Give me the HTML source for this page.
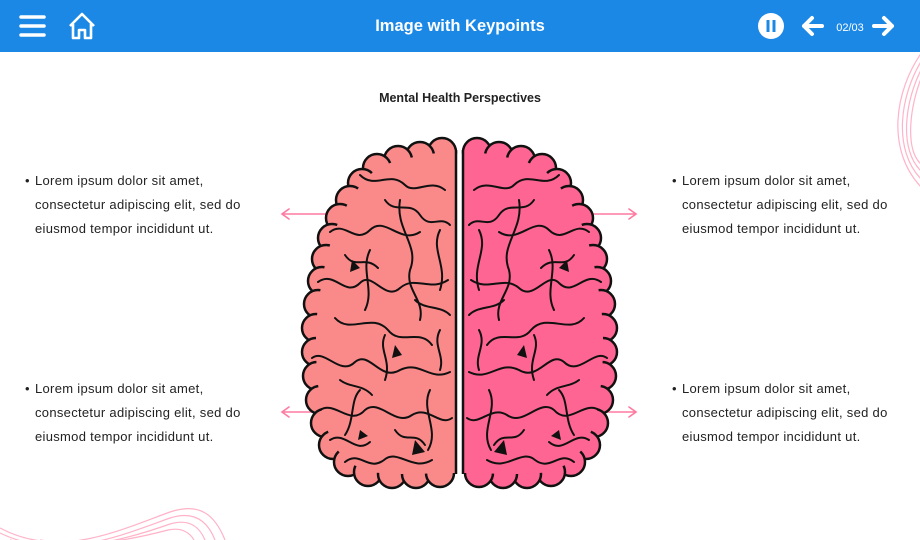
<!DOCTYPE html>
<html><head><meta charset="utf-8"><style>
*{margin:0;padding:0;box-sizing:border-box}
body{width:920px;height:540px;overflow:hidden;background:#fff;font-family:"Liberation Sans",Arial,sans-serif;position:relative}
.hdr{position:absolute;left:0;top:0;width:920px;height:52px;background:#1b88e6}
.title{position:absolute;top:17px;left:0;width:920px;text-align:center;color:#fff;font-weight:bold;font-size:16.5px;letter-spacing:0}
.sub{position:absolute;top:91px;left:0;width:920px;text-align:center;font-weight:bold;font-size:12.5px;color:#222}
.pt{position:absolute;font-size:13px;line-height:24px;color:#222;width:260px;white-space:nowrap;letter-spacing:0.3px}
.pt .b{position:absolute;left:-10px;top:0}
</style></head><body>
<div class="hdr"></div>
<svg style="position:absolute;left:0;top:0" width="920" height="540">
<g stroke="#fff" stroke-width="3.5" stroke-linecap="round" fill="none">
<line x1="21" y1="17" x2="44" y2="17"/><line x1="21" y1="26" x2="44" y2="26"/><line x1="21" y1="35" x2="44" y2="35"/>
</g>
<path d="M70,26 L82,14 L94,26 M73,24 L73,38 L79,38 L79,30 L85,30 L85,38 L91,38 L91,24" stroke="#fff" stroke-width="2.6" fill="none" stroke-linejoin="round"/>
<circle cx="771" cy="26" r="13" fill="#fff"/>
<rect x="766.5" y="20" width="3" height="12" fill="#1b88e6"/><rect x="772.5" y="20" width="3" height="12" fill="#1b88e6"/>
<path d="M822,26 L804,26 M812,18 L804,26 L812,34" stroke="#fff" stroke-width="4" fill="none" stroke-linecap="round" stroke-linejoin="round"/>
<text x="850" y="31" fill="#fff" font-size="11" font-family="Liberation Sans" text-anchor="middle">02/03</text>
<path d="M874,26 L892,26 M884,18 L892,26 L884,34" stroke="#fff" stroke-width="4" fill="none" stroke-linecap="round" stroke-linejoin="round"/>
<g stroke="#ffb3c8" stroke-width="1.2" fill="none">
<path d="M922,52 C895,90 885,150 922,188"/><path d="M922,60 C900,95 892,150 922,180"/><path d="M922,68 C905,100 898,150 922,172"/><path d="M922,76 C910,105 904,150 922,165"/>
<path d="M0,528 C60,560 120,530 170,512 C200,502 215,515 225,540"/><path d="M0,533 C60,562 120,536 170,518 C195,510 208,522 215,540"/><path d="M10,540 C70,555 125,540 170,524 C190,518 200,528 205,540"/><path d="M40,540 C90,548 130,540 168,530 C182,527 190,533 194,540"/>
</g>
<g stroke="#ff7aa0" stroke-width="1.6" fill="none" stroke-linecap="round">
<path d="M282,214 L342,214 M289,209 L282,214 L289,219"/>
<path d="M282,412 L316,412 M289,407 L282,412 L289,417"/>
<path d="M578,214 L636,214 M629,209 L636,214 L629,219"/>
<path d="M604,412 L636,412 M629,407 L636,412 L629,417"/>
</g>
<defs>
<g id="H">
<g stroke="#111" stroke-width="2.5">
<circle cx="442" cy="152" r="14"/><circle cx="420" cy="156" r="14"/><circle cx="398" cy="160" r="14"/><circle cx="377" cy="168" r="14"/>
<circle cx="362" cy="183" r="14"/><circle cx="350" cy="200" r="14"/><circle cx="340" cy="218" r="14"/><circle cx="332" cy="238" r="14"/>
<circle cx="326" cy="259" r="14"/><circle cx="322" cy="281" r="14"/><circle cx="318" cy="304" r="14"/><circle cx="316" cy="328" r="14"/>
<circle cx="316" cy="352" r="14"/><circle cx="317" cy="376" r="14"/><circle cx="320" cy="400" r="14"/><circle cx="325" cy="423" r="14"/>
<circle cx="333" cy="445" r="14"/><circle cx="348" cy="462" r="14"/><circle cx="368" cy="472" r="14"/><circle cx="392" cy="474" r="14"/>
<circle cx="416" cy="474" r="14"/><circle cx="440" cy="473" r="14"/>
</g>
<polygon points="456,150 442,152 420,156 398,160 377,168 362,183 350,200 340,218 332,238 326,259 322,281 318,304 316,328 316,352 317,376 320,400 325,423 333,445 348,462 368,472 392,474 416,474 440,473 456,473"/>
<g class="sh" stroke="none">
<ellipse cx="345" cy="300" rx="18" ry="40"/><ellipse cx="335" cy="400" rx="14" ry="35"/><ellipse cx="400" cy="300" rx="20" ry="12"/><ellipse cx="420" cy="440" rx="22" ry="12"/><ellipse cx="380" cy="220" rx="20" ry="10"/>
</g>
<line x1="456" y1="150" x2="456" y2="474" stroke="#111" stroke-width="2.5"/>
<g stroke="#111" stroke-width="2" fill="none" stroke-linecap="round">
<path d="M360,175 C375,190 390,170 405,185 C415,195 430,178 445,190"/>
<path d="M385,200 C395,215 410,200 420,215 C430,230 440,215 450,225"/>
<path d="M330,232 C345,220 355,245 370,230 C385,215 400,245 420,232"/>
<path d="M345,255 C355,270 365,255 378,268"/>
<path d="M318,282 C335,270 345,298 360,283 C372,270 385,302 400,288 C415,275 430,292 448,280"/>
<path d="M335,318 C350,335 372,312 388,330 C400,346 420,328 432,345"/>
<path d="M415,300 C425,310 440,305 450,315"/>
<path d="M312,358 C325,348 340,377 355,362 C370,350 380,382 400,370 C420,360 430,382 450,372"/>
<path d="M320,410 C335,400 350,427 365,410 C380,398 395,427 412,415 C428,405 440,427 452,418"/>
<path d="M330,440 C345,430 355,455 370,442"/>
<path d="M345,462 C360,450 368,472 384,460 C398,448 412,472 432,460"/>
<path d="M400,200 C395,230 420,245 410,270 C405,290 425,300 420,320"/>
<path d="M370,250 C360,270 375,290 365,310"/>
<path d="M430,390 C420,410 440,430 428,450"/>
<path d="M360,390 C350,400 355,420 345,435"/>
<path d="M440,230 C430,250 448,265 440,290"/>
<path d="M385,335 C378,350 392,360 385,380"/>
<path d="M340,380 C350,388 362,384 372,395"/>
<path d="M395,430 C405,445 415,430 425,445"/>
<path d="M440,330 C432,345 445,355 440,370"/>
</g>
<path d="M352,260 L360,268 L350,272 Z M395,345 L402,355 L392,358 Z M415,440 L425,452 L412,455 Z M360,430 L368,436 L358,440 Z" fill="#111"/>
</g>
</defs>
<g fill="#fa8a8a"><style>.l .sh{fill:#f27a80}.r .sh{fill:#f2507f}</style>
<g class="l"><use href="#H"/></g>
</g>
<g fill="#ff6592" transform="translate(919,0) scale(-1,1)"><g class="r"><use href="#H"/></g></g>
</svg>
<div class="title">Image with Keypoints</div>
<div class="sub">Mental Health Perspectives</div>
<div class="pt" style="left:35px;top:169px"><span class="b">•</span>Lorem ipsum dolor sit amet,<br>consectetur adipiscing elit, sed do<br>eiusmod tempor incididunt ut.</div>
<div class="pt" style="left:35px;top:377px"><span class="b">•</span>Lorem ipsum dolor sit amet,<br>consectetur adipiscing elit, sed do<br>eiusmod tempor incididunt ut.</div>
<div class="pt" style="left:682px;top:169px"><span class="b">•</span>Lorem ipsum dolor sit amet,<br>consectetur adipiscing elit, sed do<br>eiusmod tempor incididunt ut.</div>
<div class="pt" style="left:682px;top:377px"><span class="b">•</span>Lorem ipsum dolor sit amet,<br>consectetur adipiscing elit, sed do<br>eiusmod tempor incididunt ut.</div>
</body></html>
